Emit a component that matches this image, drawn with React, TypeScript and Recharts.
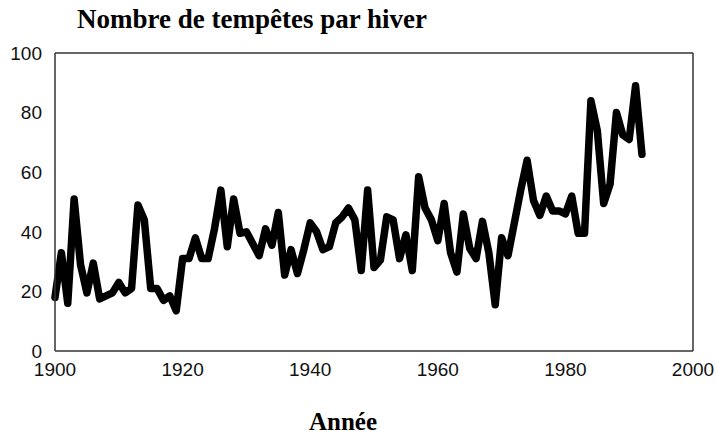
import React from 'react';
import { LineChart, Line, XAxis, YAxis, ReferenceLine } from 'recharts';

// winters, one value per year
const years = [
  1900, 1901, 1902, 1903, 1904, 1905, 1906, 1907, 1908, 1909,
  1910, 1911, 1912, 1913, 1914, 1915, 1916, 1917, 1918, 1919,
  1920, 1921, 1922, 1923, 1924, 1925, 1926, 1927, 1928, 1929,
  1930, 1931, 1932, 1933, 1934, 1935, 1936, 1937, 1938, 1939,
  1940, 1941, 1942, 1943, 1944, 1945, 1946, 1947, 1948, 1949,
  1950, 1951, 1952, 1953, 1954, 1955, 1956, 1957, 1958, 1959,
  1960, 1961, 1962, 1963, 1964, 1965, 1966, 1967, 1968, 1969,
  1970, 1971, 1972, 1973, 1974, 1975, 1976, 1977, 1978, 1979,
  1980, 1981, 1982, 1983, 1984, 1985, 1986, 1987, 1988, 1989,
  1990, 1991, 1992,
];

const storms = [
  18, 33, 16, 51, 29, 19.5, 29.5, 17.5, 18.5, 19.5,
  23, 19.5, 21, 49, 44, 21, 21, 17, 18.5, 13.5,
  31, 31, 38, 31, 31, 41, 54, 35, 51, 39.5,
  40, 36, 32, 41, 35.5, 46.5, 25.5, 34, 26, 34,
  43, 40, 34, 35, 43, 45, 48, 44, 27, 54,
  28, 30.5, 45, 44, 31, 39, 27, 58.5, 48, 44,
  37, 49.5, 33, 26.5, 46, 34.5, 31, 43.5, 33, 15.5,
  38, 32, 43, 54, 64, 50.5, 45.5, 52, 47, 47,
  46, 52, 39.5, 39.5, 84, 74, 49.5, 56, 80, 72.5,
  71, 89, 66,
];

const xTicks = [1900, 1920, 1940, 1960, 1980, 2000];
const yTicks = [0, 20, 40, 60, 80, 100];

const data = years.map((year, i) => ({ year, storms: storms[i] }));

const tickStyle = { fontFamily: '"Liberation Sans", Arial, sans-serif', fontSize: 19, fill: '#111' };
const serif = '"Liberation Serif", "Times New Roman", serif';
const frame = '#333';

export default function App() {
  return (
    <div style={{ position: 'absolute', left: 0, top: 0, width: 717, height: 434, background: '#fff' }}>
      <LineChart
        width={717}
        height={434}
        data={data}
        margin={{ top: 53, right: 24, bottom: 0, left: 0 }}
      >
        <XAxis
          dataKey="year"
          type="number"
          domain={[1900, 2000]}
          ticks={xTicks}
          height={83}
          tickSize={0}
          tickMargin={12}
          tick={tickStyle}
          axisLine={{ stroke: frame, strokeWidth: 1.5 }}
          tickLine={false}
        />
        <YAxis
          domain={[0, 100]}
          ticks={yTicks}
          width={55}
          tickSize={0}
          tickMargin={13}
          tick={tickStyle}
          axisLine={{ stroke: frame, strokeWidth: 1.5 }}
          tickLine={false}
        />
        <ReferenceLine y={100} stroke={frame} strokeWidth={1.5} />
        <ReferenceLine x={2000} stroke={frame} strokeWidth={1.5} />
        <Line
          type="linear"
          dataKey="storms"
          stroke="#000"
          strokeWidth={7.5}
          strokeLinejoin="round"
          strokeLinecap="round"
          dot={false}
          activeDot={false}
          isAnimationActive={false}
        />
      </LineChart>
      <svg
        width={717}
        height={434}
        style={{ position: 'absolute', left: 0, top: 0, pointerEvents: 'none' }}
      >
        <text x={77} y={28} style={{ fontFamily: serif, fontSize: 27, fontWeight: 700 }} fill="#000">
          Nombre de tempêtes par hiver
        </text>
        <text
          x={343}
          y={430}
          textAnchor="middle"
          style={{ fontFamily: serif, fontSize: 25, fontWeight: 700 }}
          fill="#000"
        >
          Année
        </text>
      </svg>
    </div>
  );
}
